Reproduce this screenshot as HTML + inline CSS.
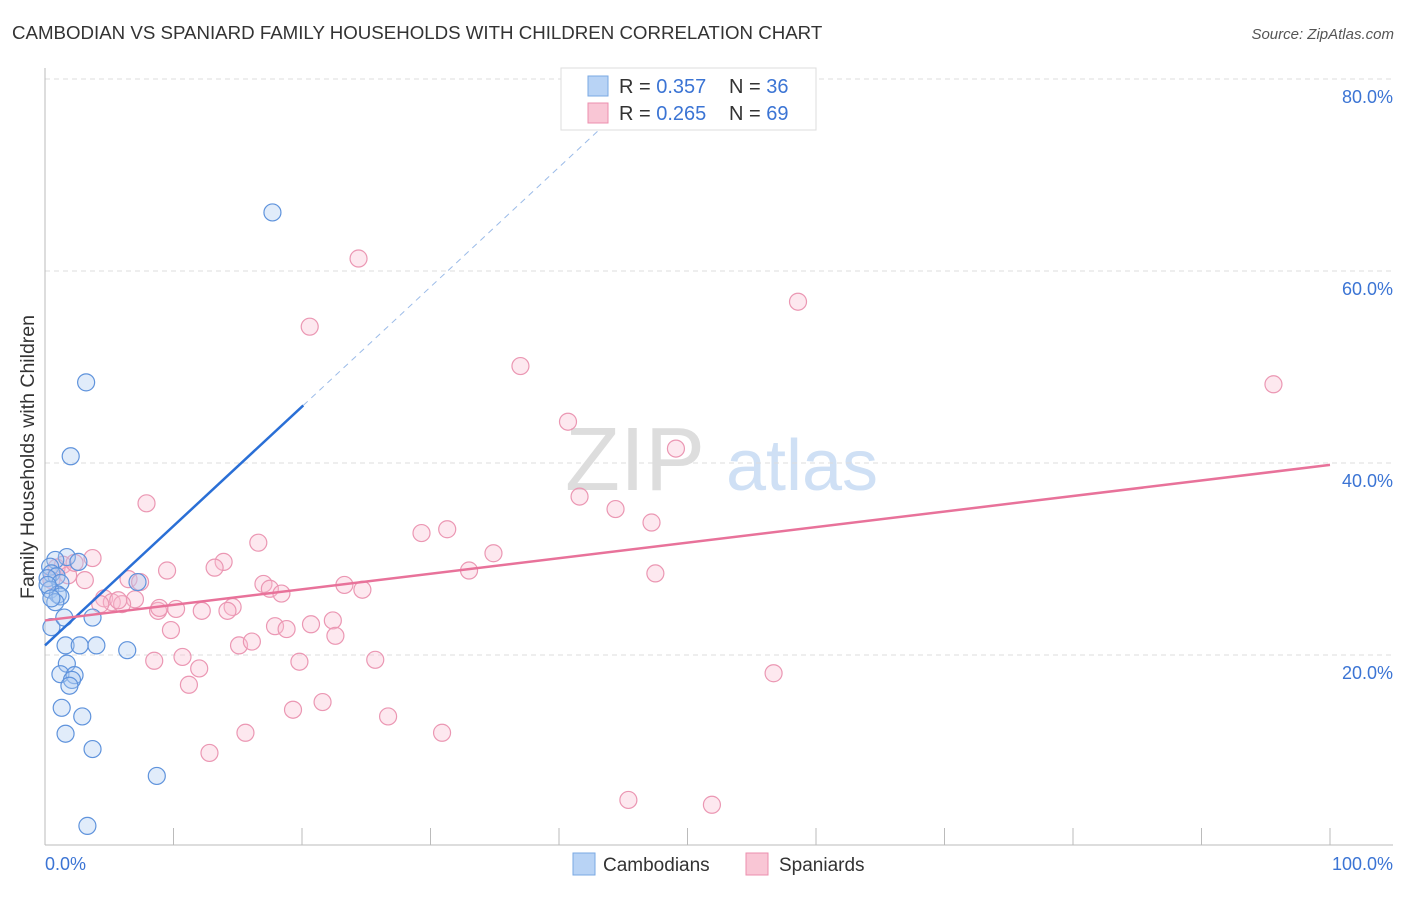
<!DOCTYPE html>
<html><head><meta charset="utf-8"><style>
body{margin:0;background:#fff;font-family:"Liberation Sans",sans-serif;}
svg text{font-family:"Liberation Sans",sans-serif;}
</style></head><body>
<svg id="c" width="1406" height="892" xmlns="http://www.w3.org/2000/svg">
<text x="12" y="39" font-size="18.7" fill="#333">CAMBODIAN VS SPANIARD FAMILY HOUSEHOLDS WITH CHILDREN CORRELATION CHART</text>
<text x="1394" y="39" font-size="15" fill="#555" font-style="italic" text-anchor="end">Source: ZipAtlas.com</text>
<text x="0" y="0" transform="translate(34,457) rotate(-90)" font-size="19.5" fill="#333" text-anchor="middle">Family Households with Children</text>
<g><text x="635" y="490" font-size="90" fill="#ddd" font-family="Liberation Serif,serif" text-anchor="middle">ZIP</text><text x="802" y="490" font-size="72" fill="#cfe0f5" text-anchor="middle">atlas</text></g>
<g id="grid"></g><g id="marks"></g>
<g>
<rect x="561" y="68" width="255" height="62" fill="#fff" stroke="#ddd"/>
<rect x="588" y="76" width="20" height="20" fill="#b8d3f5" stroke="#7aa8e3"/>
<rect x="588" y="103" width="20" height="20" fill="#f9c6d5" stroke="#ec8fae"/>
<text x="619" y="93" font-size="20" fill="#333">R = <tspan fill="#3b74d4">0.357</tspan></text>
<text x="729" y="93" font-size="20" fill="#333">N = <tspan fill="#3b74d4">36</tspan></text>
<text x="619" y="120" font-size="20" fill="#333">R = <tspan fill="#3b74d4">0.265</tspan></text>
<text x="729" y="120" font-size="20" fill="#333">N = <tspan fill="#3b74d4">69</tspan></text>
</g>
<g>
<rect x="573" y="853" width="22" height="22" fill="#b8d3f5" stroke="#7aa8e3"/>
<text x="603" y="871" font-size="19" fill="#333">Cambodians</text>
<rect x="746" y="853" width="22" height="22" fill="#f9c6d5" stroke="#ec8fae"/>
<text x="779" y="871" font-size="19" fill="#333">Spaniards</text>
</g>
</svg>
<script>
const yTicks=[20,40,60,80];
const xTickLabels=["0.0%","100.0%"];
const blueX=[17.7,3.2,2.0,1.7,0.8,2.6,0.4,0.5,0.9,0.2,1.2,7.2,0.4,1.0,1.2,0.8,0.5,1.5,3.7,1.6,2.7,4.0,6.4,1.7,1.2,2.3,2.1,1.9,1.3,2.9,1.6,3.7,8.7,3.3,0.2,0.5];
const blueY=[66.1,48.4,40.7,30.2,29.9,29.7,29.2,28.5,28.2,28.0,27.5,27.6,26.8,26.3,26.1,25.5,22.9,23.9,23.9,21.0,21.0,21.0,20.5,19.1,18.0,17.9,17.4,16.8,14.5,13.6,11.8,10.2,7.4,2.2,27.3,25.9];
const pinkX=[24.4,58.6,20.6,37.0,95.6,40.7,49.1,7.9,41.6,44.4,47.2,31.3,29.3,16.6,34.9,3.7,13.9,1.4,9.5,13.2,33.0,47.5,3.1,6.5,7.4,17.0,23.3,17.5,24.7,18.4,4.6,7.0,5.2,6.0,14.6,8.8,12.2,10.2,14.2,22.4,17.9,20.7,18.8,9.8,22.6,15.1,16.1,10.7,8.5,19.8,25.7,12.0,56.7,11.2,21.6,19.3,26.7,15.6,30.9,12.8,45.4,51.9,0.9,1.8,0.5,2.3,4.3,8.9,5.7];
const pinkY=[61.3,56.8,54.2,50.1,48.2,44.3,41.5,35.8,36.5,35.2,33.8,33.1,32.7,31.7,30.6,30.1,29.7,29.4,28.8,29.1,28.8,28.5,27.8,27.9,27.6,27.4,27.3,26.9,26.8,26.4,25.9,25.8,25.5,25.3,25.0,24.6,24.6,24.8,24.6,23.6,23.0,23.2,22.7,22.6,22.0,21.0,21.4,19.8,19.4,19.3,19.5,18.6,18.1,16.9,15.1,14.3,13.6,11.9,11.9,9.8,4.9,4.4,29.1,28.3,27.8,29.6,25.3,24.9,25.7];
const blueTrend=[21.0,46.0,74.8], blueTrendX=[0,20.1,43.2];
const pinkTrend=[23.6,39.8];
const NS="http://www.w3.org/2000/svg";
const X=v=>45+v*12.85, Y=v=>847-v*9.6;
function mk(t,a,p){const e=document.createElementNS(NS,t);for(const k in a)e.setAttribute(k,a[k]);p.appendChild(e);return e;}
const g=document.getElementById('grid'), m=document.getElementById('marks');
yTicks.forEach(t=>{
 const l=mk('line',{x1:45,x2:1393,y1:Y(t),y2:Y(t),stroke:'#ddd','stroke-dasharray':'5,4'},g);
 
 
 const tx=mk('text',{x:1393,y:Y(t)+24,'font-size':18,fill:'#3b74d4','text-anchor':'end'},g);tx.textContent=t.toFixed(1)+'%';
 
 
});
mk('line',{x1:45,x2:45,y1:68,y2:845,stroke:'#bbb'},g);
mk('line',{x1:45,x2:1393,y1:845,y2:845,stroke:'#bbb'},g);
for(let i=0;i<=10;i++){const t=mk('line',{x1:X(i*10),x2:X(i*10),y1:828,y2:845,stroke:'#bbb'},g);
 
 }
const l0=mk('text',{x:45,y:870,'font-size':18,fill:'#3b74d4'},g);l0.textContent=xTickLabels[0];


const l1=mk('text',{x:1393,y:870,'font-size':18,fill:'#3b74d4','text-anchor':'end'},g);l1.textContent=xTickLabels[1];


pinkX.forEach((v,i)=>{const c=mk('circle',{cx:X(v),cy:Y(pinkY[i]),r:8.5,fill:'rgba(249,190,208,0.35)',stroke:'#eb97b3','stroke-width':1.2},m);
 
 });
blueX.forEach((v,i)=>{const c=mk('circle',{cx:X(v),cy:Y(blueY[i]),r:8.5,fill:'rgba(170,200,240,0.35)',stroke:'#5f93dc','stroke-width':1.2},m);
 
 });
const bt=mk('line',{x1:X(blueTrendX[0]),y1:Y(blueTrend[0]),x2:X(blueTrendX[1]),y2:Y(blueTrend[1]),stroke:'#2a6fd6','stroke-width':2.5},m);


const bd=mk('line',{x1:X(blueTrendX[1]),y1:Y(blueTrend[1]),x2:X(blueTrendX[2]),y2:Y(blueTrend[2]),stroke:'#9bbbe8','stroke-width':1,'stroke-dasharray':'6,5'},m);


const pt=mk('line',{x1:X(0),y1:Y(pinkTrend[0]),x2:X(100),y2:Y(pinkTrend[1]),stroke:'#e8729a','stroke-width':2.5},m);


</script>
</body></html>
